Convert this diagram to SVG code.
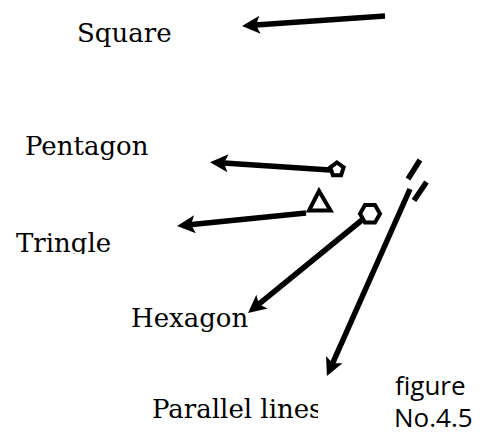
<svg xmlns="http://www.w3.org/2000/svg" width="485" height="432" viewBox="0 0 485 432">
  <style>
    .lbl { font-family: "DejaVu Serif", "Liberation Serif", serif; font-size: 26px; fill: #000; }
    .cap { font-family: "Open Sans", "Liberation Sans", sans-serif; font-size: 26px; fill: #000; }
    .ln { stroke: #000; stroke-width: 5.5; fill: none; }
    .shp { stroke: #000; stroke-width: 4; fill: #fff; }
  </style>
  <defs>
    <marker id="ah" markerUnits="userSpaceOnUse" markerWidth="30" markerHeight="30" viewBox="-10 -15 25 30" refX="0" refY="0" orient="auto" overflow="visible">
      <path d="M10,0 L-8,-9 L-4,0 L-8,9 Z" fill="#000"/>
    </marker>
    <clipPath id="clipTri"><rect x="0" y="200" width="200" height="54"/></clipPath>
    <clipPath id="clipPar"><rect x="100" y="380" width="218" height="52"/></clipPath>
  </defs>
  <rect width="485" height="432" fill="#fff"/>

  <g id="connectors">
    <line class="ln" x1="385" y1="16" x2="252" y2="25.3" marker-end="url(#ah)"/>
    <line class="ln" x1="330" y1="170" x2="220" y2="162.8" marker-end="url(#ah)"/>
    <line class="ln" x1="306" y1="213" x2="187" y2="225" marker-end="url(#ah)"/>
    <line class="ln" x1="362" y1="220" x2="255.8" y2="306.7" marker-end="url(#ah)"/>
    <line class="ln" x1="410" y1="189" x2="331" y2="366.9" marker-end="url(#ah)"/>
  </g>

  <g id="square"><text class="lbl" x="77" y="42">Square</text></g>
  <g id="pentagon-label"><text class="lbl" x="25" y="155">Pentagon</text></g>
  <g id="tringle-label"><text class="lbl" x="16" y="252" clip-path="url(#clipTri)">Tringle</text></g>
  <g id="hexagon-label"><text class="lbl" x="131" y="327">Hexagon</text></g>
  <g id="parallel-label"><text class="lbl" x="152" y="418" clip-path="url(#clipPar)">Parallel lines</text></g>

  <g id="pentagon-shape">
    <polygon class="shp" points="337,162.5 343.66,167.34 341.11,175.16 332.89,175.16 330.34,167.34"/>
  </g>
  <g id="triangle-shape">
    <polygon class="shp" points="319,191 309,210.5 330.5,210.5"/>
  </g>
  <g id="hexagon-shape">
    <polygon class="shp" points="380,213.7 375,205 365,205 360,213.7 365,222.4 375,222.4"/>
  </g>
  <g id="parallel-lines">
    <line class="ln" x1="420" y1="160" x2="408" y2="179"/>
    <line class="ln" x1="426.5" y1="182" x2="414" y2="200.5"/>
  </g>

  <g id="caption">
    <text class="cap" x="395" y="395">figure</text>
    <text class="cap" x="394" y="427">No.4.5</text>
  </g>
</svg>
